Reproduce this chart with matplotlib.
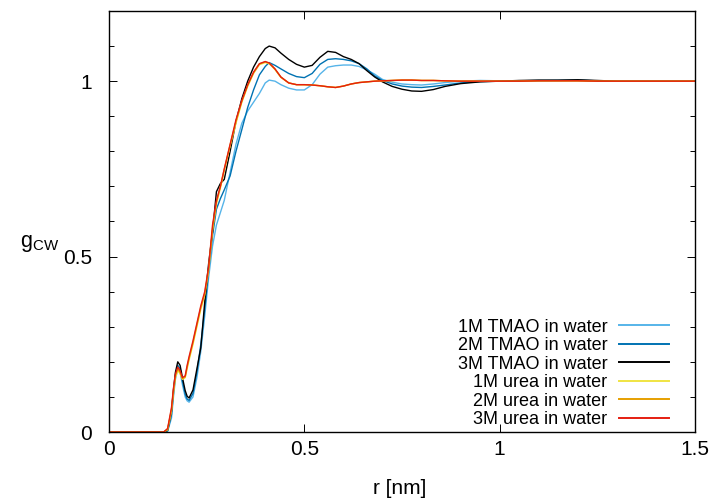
import numpy as np
import matplotlib
matplotlib.use("Agg")
import matplotlib.pyplot as plt
from matplotlib.ticker import MultipleLocator

plt.rcParams['font.family'] = ['Liberation Sans', 'DejaVu Sans']
plt.rcParams['mathtext.fontset'] = 'custom'
plt.rcParams['mathtext.rm'] = 'Liberation Sans'
plt.rcParams['mathtext.it'] = 'Liberation Sans'

# r grid [nm]
r = [0.0, 0.14, 0.15, 0.16, 0.165, 0.17, 0.176, 0.182, 0.188, 0.195,
     0.2, 0.205, 0.215,
     0.225, 0.235, 0.245, 0.255, 0.265, 0.275, 0.285, 0.295, 0.31, 0.325,
     0.34, 0.355, 0.37, 0.385, 0.40, 0.41, 0.425, 0.44, 0.46, 0.48,
     0.50, 0.52, 0.54, 0.56, 0.58, 0.60, 0.62, 0.64, 0.66, 0.68,
     0.70, 0.725, 0.75, 0.775, 0.80, 0.83, 0.86, 0.90, 0.95, 1.0,
     1.05, 1.1, 1.15, 1.2, 1.25, 1.3, 1.4, 1.5]

# g_CW curves
tmao1 = [0, 0, 0.002, 0.04, 0.10, 0.15, 0.18, 0.17, 0.135, 0.10,
         0.089, 0.085, 0.10,
         0.155, 0.23, 0.33, 0.44, 0.53, 0.59, 0.625, 0.66, 0.74, 0.82,
         0.88, 0.915, 0.94, 0.965, 0.995, 1.003, 1.0, 0.99, 0.98, 0.975,
         0.975, 0.99, 1.02, 1.04, 1.044, 1.046, 1.046, 1.042, 1.032, 1.02,
         1.005, 0.997, 0.992, 0.99, 0.989, 0.992, 0.996, 1.0, 1.002, 1.001,
         1.001, 1.001, 1.002, 1.002, 1.001, 1.0, 1.0, 1.0]
tmao2 = [0, 0, 0.003, 0.05, 0.11, 0.16, 0.19, 0.18, 0.145, 0.108,
         0.094, 0.09, 0.11,
         0.17, 0.25, 0.35, 0.46, 0.56, 0.635, 0.665, 0.69, 0.73, 0.80,
         0.862, 0.925, 0.975, 1.018, 1.042, 1.053, 1.045, 1.035, 1.022, 1.013,
         1.01, 1.022, 1.048, 1.062, 1.064, 1.062, 1.058, 1.05, 1.035, 1.015,
         1.002, 0.992, 0.986, 0.983, 0.982, 0.985, 0.989, 0.995, 0.999, 1.0,
         1.001, 1.002, 1.002, 1.003, 1.001, 1.0, 1.0, 1.0]
tmao3 = [0, 0, 0.005, 0.06, 0.12, 0.17, 0.20, 0.19, 0.155, 0.118,
         0.102, 0.097, 0.12,
         0.18, 0.24, 0.37, 0.48, 0.57, 0.685, 0.708, 0.72, 0.80, 0.885,
         0.95, 1.0, 1.04, 1.07, 1.093, 1.10, 1.095, 1.08, 1.062, 1.048,
         1.04, 1.045, 1.068, 1.085, 1.082, 1.07, 1.062, 1.05, 1.03, 1.012,
         0.998, 0.985, 0.977, 0.972, 0.971, 0.976, 0.985, 0.993, 0.998, 1.0,
         1.002, 1.003, 1.003, 1.004, 1.002, 1.0, 1.0, 1.0]
urea1 = [0, 0, 0.006, 0.06, 0.11, 0.155, 0.175, 0.166, 0.15, 0.155,
         0.18, 0.205, 0.25,
         0.30, 0.35, 0.39, 0.46, 0.575, 0.65, 0.695, 0.745, 0.815, 0.88,
         0.94, 0.985, 1.022, 1.047, 1.053, 1.05, 1.033, 1.011, 0.995, 0.99,
         0.99, 0.989, 0.987, 0.984, 0.982, 0.986, 0.992, 0.996, 0.998, 1.0,
         1.001, 1.002, 1.003, 1.003, 1.002, 1.002, 1.001, 1.0, 1.0, 1.0,
         1.0, 1.001, 1.001, 1.001, 1.0, 1.0, 1.0, 1.0]
urea2 = [0, 0, 0.008, 0.065, 0.118, 0.16, 0.18, 0.17, 0.152, 0.157,
         0.185, 0.21, 0.255,
         0.305, 0.355, 0.395, 0.465, 0.58, 0.655, 0.698, 0.748, 0.818, 0.885,
         0.942, 0.988, 1.024, 1.049, 1.055, 1.051, 1.034, 1.011, 0.995, 0.99,
         0.99, 0.989, 0.987, 0.984, 0.982, 0.986, 0.992, 0.996, 0.998, 1.0,
         1.001, 1.002, 1.003, 1.003, 1.002, 1.002, 1.001, 1.0, 1.0, 1.0,
         1.0, 1.001, 1.001, 1.001, 1.0, 1.0, 1.0, 1.0]
urea3 = [0, 0, 0.01, 0.07, 0.125, 0.165, 0.185, 0.175, 0.155, 0.16,
         0.19, 0.215, 0.26,
         0.31, 0.36, 0.40, 0.47, 0.59, 0.66, 0.70, 0.75, 0.82, 0.89,
         0.945, 0.99, 1.026, 1.05, 1.056, 1.052, 1.035, 1.012, 0.995, 0.99,
         0.99, 0.989, 0.987, 0.984, 0.982, 0.986, 0.992, 0.996, 0.998, 1.0,
         1.001, 1.002, 1.003, 1.003, 1.002, 1.002, 1.001, 1.0, 1.0, 1.0,
         1.0, 1.001, 1.001, 1.001, 1.0, 1.0, 1.0, 1.0]

labels = ["1M TMAO in water", "2M TMAO in water", "3M TMAO in water",
          "1M urea in water", "2M urea in water", "3M urea in water"]
series = [tmao1, tmao2, tmao3, urea1, urea2, urea3]
colors = ["#56b4e9", "#0072b2", "#000000", "#f0e442", "#e69f00", "#e51e10"]

fig = plt.figure(figsize=(7.14, 5.01), dpi=100)
ax = fig.add_axes([109/714, 69/501, 586/714, 421/501])

for g, c, lab in zip(series, colors, labels):
    ax.plot(r, g, color=c, lw=1.0, label=lab)

ax.set_xlim(0, 1.5)
ax.set_ylim(0, 1.2)
ax.xaxis.set_major_locator(MultipleLocator(0.5))
ax.yaxis.set_major_locator(MultipleLocator(0.5))
ax.yaxis.set_minor_locator(MultipleLocator(0.1))
ax.xaxis.set_major_formatter(plt.FuncFormatter(lambda v, p: f"{v:g}"))
ax.yaxis.set_major_formatter(plt.FuncFormatter(lambda v, p: f"{v:g}"))
ax.tick_params(which='both', direction='in', top=True, right=True,
               labelsize=15, width=0.7)
ax.tick_params(axis='y', which='major', length=6, pad=12)
ax.tick_params(axis='x', which='major', length=6, pad=6)
ax.tick_params(which='minor', length=3.5)
for s in ax.spines.values():
    s.set_linewidth(1.0)

fig.text(40/714, 1 - 244/501, r"g$_{\mathregular{CW}}$", fontsize=15.5,
         ha='center', va='center')
fig.text(400/714, 1 - 489/501, "r [nm]", fontsize=15, ha='center', va='center')

leg = ax.legend(loc='lower right', bbox_to_anchor=(669/714, 1 - 428/501),
                bbox_transform=fig.transFigure, frameon=False, markerfirst=False,
                fontsize=13, handlelength=2.75, handletextpad=0.65,
                labelspacing=0.08, borderpad=0, borderaxespad=0)
for h in leg.get_lines():
    h.set_linewidth(1.4)

fig.savefig("out.png", dpi=100)
